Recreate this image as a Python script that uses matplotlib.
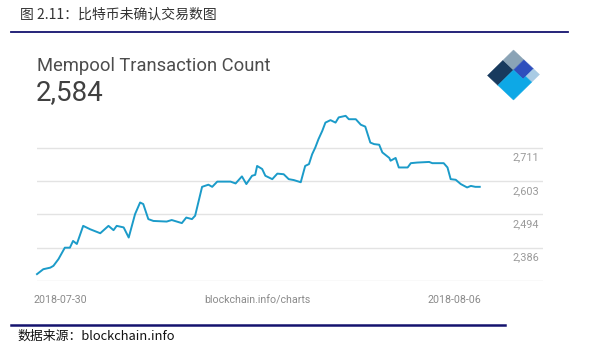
import matplotlib
matplotlib.use("Agg")
import matplotlib.pyplot as plt
from matplotlib.lines import Line2D
from matplotlib.patches import Polygon
import matplotlib.transforms as mtransforms

plt.rcParams['font.family'] = ['Noto Sans CJK SC', 'DejaVu Sans']

# days since 2018-07-30 00:00
days = [0.00, 0.10, 0.21, 0.26, 0.34, 0.44, 0.52, 0.57, 0.63, 0.73,
        0.84, 1.00, 1.13, 1.21, 1.26, 1.37, 1.45, 1.55, 1.63, 1.68,
        1.76, 1.84, 2.05, 2.13, 2.29, 2.36, 2.45, 2.50, 2.61, 2.71,
        2.77, 2.85, 3.06, 3.14, 3.24, 3.31, 3.40, 3.45, 3.48, 3.56,
        3.61, 3.72, 3.80, 3.90, 3.98, 4.06, 4.17, 4.24, 4.30, 4.35,
        4.40, 4.45, 4.51, 4.56, 4.64, 4.72, 4.77, 4.88, 4.93, 5.04,
        5.12, 5.19, 5.27, 5.33, 5.41, 5.46, 5.57, 5.59, 5.67, 5.72,
        5.86, 5.91, 6.01, 6.20, 6.25, 6.43, 6.49, 6.54, 6.62, 6.70,
        6.80, 6.86, 6.93, 7.00]
count = [2300, 2316, 2321, 2327, 2349, 2386, 2386, 2408, 2398, 2457,
         2446, 2433, 2457, 2443, 2457, 2452, 2419, 2495, 2533, 2528,
         2479, 2473, 2471, 2476, 2466, 2484, 2479, 2490, 2584, 2591,
         2584, 2601, 2601, 2595, 2618, 2593, 2620, 2623, 2652, 2642,
         2620, 2609, 2627, 2625, 2609, 2606, 2599, 2652, 2658, 2690,
         2712, 2739, 2766, 2793, 2801, 2793, 2810, 2815, 2804, 2804,
         2786, 2780, 2728, 2723, 2721, 2696, 2678, 2669, 2678, 2647,
         2647, 2661, 2663, 2665, 2661, 2661, 2647, 2609, 2607, 2593,
         2582, 2587, 2584, 2584]

grid_values = [2277.6, 2386, 2494, 2603, 2711]
tick_labels = ["", "2,386", "2,494", "2,603", "2,711"]
start_label = "2018-07-30"
end_label = "2018-08-06"

W, H = 589, 353
fig = plt.figure(figsize=(W / 100, H / 100), dpi=100)
fig.patch.set_facecolor("white")


def fx(px):
    return px / W


def fy(py):
    return 1 - py / H


# header / footer
fig.text(fx(20), fy(15), "图 2.11：比特币未确认交易数图", fontsize=10,
         color="#333333", va="center", ha="left")
fig.add_artist(Line2D([fx(11), fx(568)], [fy(32), fy(32)],
                      color="#14136e", lw=1.3))
fig.add_artist(Line2D([fx(11), fx(505)], [fy(325), fy(325)],
                      color="#14136e", lw=1.8))
fig.text(fx(17), fy(336), "数据来源：blockchain.info", fontsize=9.3,
         color="#111111", va="center", ha="left")

fig.text(fx(37), fy(66), "Mempool Transaction Count", fontsize=13.2,
         color="#4d4d4d", family="Roboto", va="center", ha="left")
fig.text(fx(36), fy(93), "2,584", fontsize=20, color="#404040",
         family="Roboto", va="center", ha="left")

# main axes
ax = fig.add_axes([fx(37), fy(281), fx(543) - fx(37), fy(110) - fy(281)])
ax.set_xlim(0, 8)
ax.set_ylim(2277.6, 2834)
for s in ax.spines.values():
    s.set_visible(False)
ax.set_xticks([])
ax.set_yticks([])
for v in grid_values:
    ax.axhline(v, color="#e3e3e3", lw=1.0, zorder=1)

ax.plot(days, count, color="#1b9bc9", lw=1.4, zorder=3, clip_on=False)

trans = mtransforms.blended_transform_factory(ax.transAxes, ax.transData)
for v, lab in zip(grid_values, tick_labels):
    if lab:
        ax.annotate(lab, (0.992, v), xycoords=trans, xytext=(0, -3.5),
                    textcoords="offset points", ha="right", va="top",
                    fontsize=7.8, color="#9a9a9a", family="Roboto")

fig.text(fx(33), fy(300), start_label, fontsize=7.7, color="#8a8a8a",
         family="Roboto", va="center", ha="left")
fig.text(fx(257), fy(300), "blockchain.info/charts", fontsize=7.7,
         color="#8a8a8a", family="Roboto", va="center", ha="center")
fig.text(fx(481), fy(300), end_label, fontsize=7.7, color="#8a8a8a",
         family="Roboto", va="center", ha="right")

# logo
lax = fig.add_axes([fx(486), fy(101), fx(543) - fx(486), fy(49) - fy(101)])
lax.set_xlim(486, 543)
lax.set_ylim(101, 49)
lax.axis("off")
left = (487.5, 75.5)
a = (26.0, -25.5)   # left corner -> top corner
b = (26.0, 24.5)    # left corner -> bottom corner


def dp(s, t):
    return (left[0] + s * a[0] + t * b[0], left[1] + s * a[1] + t * b[1])


pieces = [
    ([(0, 0), (0.6, 0), (0.6, 0.4), (0, 0.4)], "#183a5e"),
    ([(0.6, 0), (1, 0), (1, 0.4), (0.6, 0.4)], "#8aa3b6"),
    ([(0.6, 0.4), (1, 0.4), (1, 0.77), (0.6, 0.77)], "#2f4fbd"),
    ([(0.7, 0.77), (1, 0.77), (1, 1), (0.7, 1)], "#a9cbe4"),
    ([(0, 0.4), (0.6, 0.4), (0.6, 0.77), (0.7, 0.77), (0.7, 1), (0, 1)],
     "#0da8e6"),
]
for pts, col in pieces:
    lax.add_patch(Polygon([dp(s, t) for s, t in pts], closed=True,
                          facecolor=col, edgecolor=col, lw=0.3,
                          joinstyle="round"))

fig.savefig("out.png", dpi=100)
